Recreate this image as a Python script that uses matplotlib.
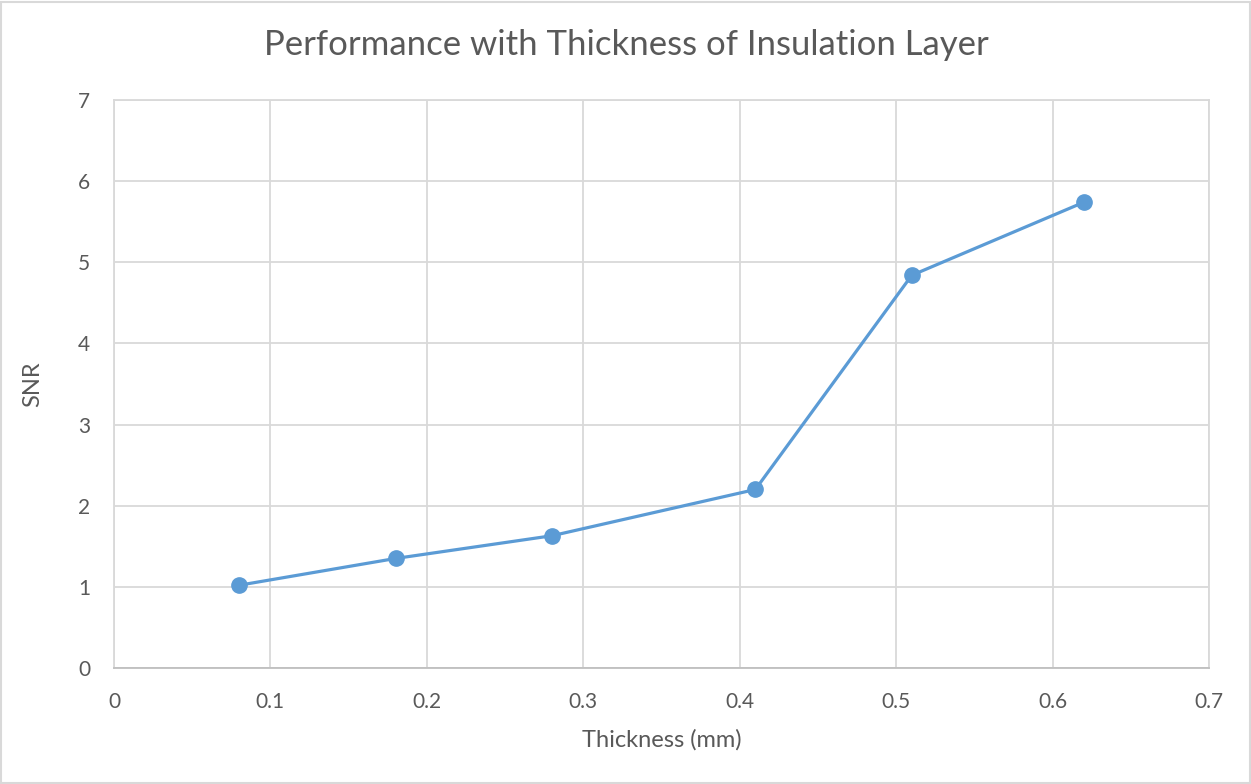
import matplotlib.pyplot as plt
from matplotlib.patches import Rectangle

# SNR measured against insulation layer thickness
thickness = [0.08, 0.18, 0.28, 0.41, 0.51, 0.62]
snr = [1.02, 1.35, 1.63, 2.20, 4.84, 5.74]

x_ticks = [0, 0.1, 0.2, 0.3, 0.4, 0.5, 0.6, 0.7]
x_tick_labels = ['0', '0.1', '0.2', '0.3', '0.4', '0.5', '0.6', '0.7']
y_ticks = [0, 1, 2, 3, 4, 5, 6, 7]

text_color = '#595959'
grid_color = '#D9D9D9'
line_color = '#5B9BD5'

plt.rcParams['font.family'] = ['Lato', 'DejaVu Sans']

fig = plt.figure(figsize=(12.51, 7.84), dpi=100)
ax = fig.add_axes([114 / 1251, 1 - 668 / 784, 1095 / 1251, 568 / 784])

ax.plot(thickness, snr, color=line_color, linewidth=2.3, marker='o',
        markersize=11, zorder=3)

ax.set_xlim(0, 0.7)
ax.set_ylim(0, 7)
ax.set_xticks(x_ticks)
ax.set_xticklabels(x_tick_labels)
ax.set_yticks(y_ticks)
ax.grid(True, color=grid_color, linewidth=1.3)
ax.set_axisbelow(True)
ax.tick_params(length=0, labelsize=15, colors=text_color)
ax.tick_params(axis='x', pad=17)
ax.tick_params(axis='y', pad=17)

for side in ['top', 'right', 'left']:
    ax.spines[side].set_color(grid_color)
    ax.spines[side].set_linewidth(1.3)
ax.spines['bottom'].set_color('#BFBFBF')
ax.spines['bottom'].set_linewidth(1.3)

ax.set_xlabel('Thickness (mm)', fontsize=17, color=text_color, va='center')
ax.xaxis.set_label_coords(0.5, (668 - 740) / 568)
ax.set_ylabel('SNR', fontsize=17, color=text_color, va='center')
ax.yaxis.set_label_coords((33 - 114) / 1095, 0.5)

fig.text(0.501, 1 - 45 / 784, 'Performance with Thickness of Insulation Layer',
         fontsize=25, color=text_color, ha='center', va='center')

# light frame round the whole chart
fig.patches.append(Rectangle((0.001, 0.001), 0.998, 0.997, transform=fig.transFigure,
                             fill=False, edgecolor=grid_color, linewidth=1.5))

fig.savefig('out.png', dpi=100)
